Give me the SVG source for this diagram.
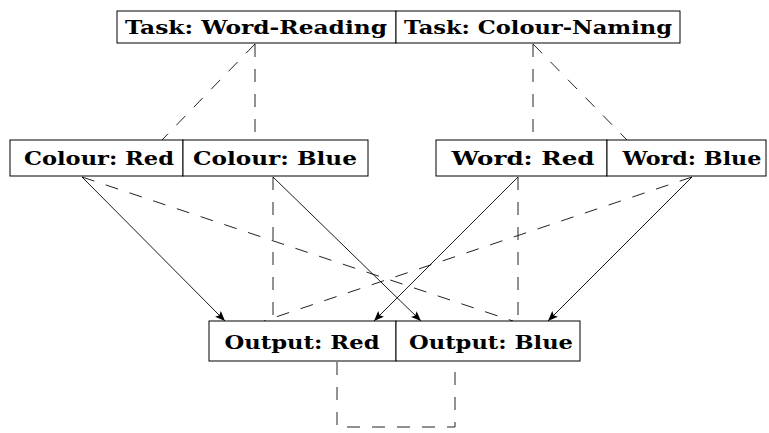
<svg xmlns="http://www.w3.org/2000/svg" width="769" height="433" viewBox="0 0 769 433">
<style>
.box{fill:#fff;stroke:#000;stroke-width:1}
.t{font-family:"DejaVu Serif","Liberation Serif",serif;font-weight:bold;font-size:19px;fill:#000;text-anchor:middle}
.d{fill:none;stroke:#222;stroke-width:1;stroke-dasharray:13 12}
.s{fill:none;stroke:#000;stroke-width:0.9;marker-end:url(#ah)}
</style>
<defs>
<marker id="ah" viewBox="0 0 10 10" refX="10" refY="5" markerWidth="10" markerHeight="10" markerUnits="userSpaceOnUse" orient="auto">
<path d="M0,1 L10,5 L0,9 L2,5 Z" fill="#000"/>
</marker>
</defs>
<rect width="769" height="433" fill="#fff"/>
<g id="connectors">
<path class="d" d="M255,44 L255,140"/>
<path class="d" d="M255,44 L162,140"/>
<path class="d" d="M533,44 L533,140"/>
<path class="d" d="M533,44 L627,140"/>
<path class="d" d="M82,177 L513,321"/>
<path class="d" d="M273,177 L273,321"/>
<path class="d" d="M518,177 L518,321"/>
<path class="d" d="M692,177 L264,321"/>
<path class="d" d="M337,362 L337,427 L455,427 L455,362"/>
<path class="s" d="M82,177 L225,321"/>
<path class="s" d="M273,177 L421,321"/>
<path class="s" d="M518,177 L374,321"/>
<path class="s" d="M692,177 L548,321"/>
</g>
<g id="task-word-reading">
<rect class="box" x="117" y="11" width="279" height="32"/>
<text class="t" x="256" y="34" textLength="262" lengthAdjust="spacingAndGlyphs">Task: Word-Reading</text>
</g>
<g id="task-colour-naming">
<rect class="box" x="396" y="11" width="284" height="32"/>
<text class="t" x="538" y="34" textLength="268" lengthAdjust="spacingAndGlyphs">Task: Colour-Naming</text>
</g>
<g id="colour-red">
<rect class="box" x="10" y="140" width="173" height="36"/>
<text class="t" x="99" y="165" textLength="150" lengthAdjust="spacingAndGlyphs">Colour: Red</text>
</g>
<g id="colour-blue">
<rect class="box" x="183" y="140" width="185" height="36"/>
<text class="t" x="275" y="165" textLength="164" lengthAdjust="spacingAndGlyphs">Colour: Blue</text>
</g>
<g id="word-red">
<rect class="box" x="436" y="140" width="171" height="36"/>
<text class="t" x="523" y="165" textLength="143" lengthAdjust="spacingAndGlyphs">Word: Red</text>
</g>
<g id="word-blue">
<rect class="box" x="607" y="140" width="159" height="36"/>
<text class="t" x="692" y="165" textLength="139" lengthAdjust="spacingAndGlyphs">Word: Blue</text>
</g>
<g id="output-red">
<rect class="box" x="209" y="321" width="187" height="40"/>
<text class="t" x="302" y="349" textLength="155" lengthAdjust="spacingAndGlyphs">Output: Red</text>
</g>
<g id="output-blue">
<rect class="box" x="396" y="321" width="184" height="40"/>
<text class="t" x="491" y="349" textLength="164" lengthAdjust="spacingAndGlyphs">Output: Blue</text>
</g>
</svg>
